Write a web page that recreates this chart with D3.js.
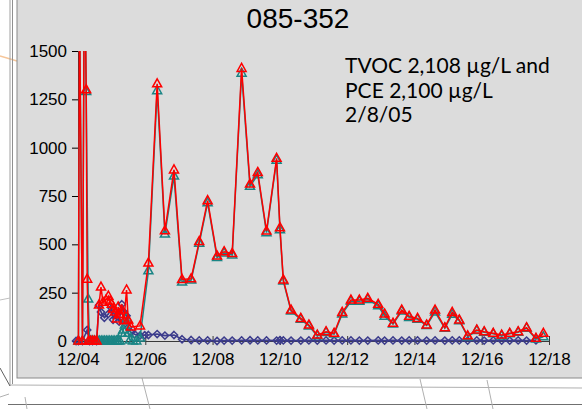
<!DOCTYPE html>
<html><head><meta charset="utf-8">
<script src="https://cdn.jsdelivr.net/npm/d3@7"></script>
<style>html,body{margin:0;padding:0;background:#fff;overflow:hidden}</style>
</head><body>
<svg id="c" width="582" height="409"></svg>
<script>
// ---- data (decimal year, µg/L) ----
const tvocYears = [2004.93,2004.96,2005.05,2005.11,2005.16,2005.19,2005.23,2005.29,2005.35,2005.41,2005.47,2005.54,2005.60,2005.66,2005.75,2005.82,2005.87,2005.92,2005.96,2006.02,2006.07,2006.11,2006.14,2006.22,2006.28,2006.36,2006.41,2006.49,2006.76,
 2007.01,2007.27,2007.50,2007.77,2008.01,2008.28,2008.52,2008.77,2009.05,2009.26,2009.50,2009.78,2010.03,2010.26,2010.52,2010.82,2010.92,2011.02,2011.25,2011.54,2011.78,2012.03,2012.29,2012.53,2012.77,2013.03,2013.28,2013.53,2013.84,2014.03,2014.28,2014.54,2014.76,2015.01,2015.28,2015.53,2015.82,2016.04,2016.25,2016.50,2016.77,2016.99,2017.26,2017.51,2017.75,2018.00,2018.25,2018.53,2018.75];
const tvocValues = [0,1800,0,2108,1300,320,0,0,0,0,0,186,279,200,212,232,206,190,165,150,114,176,139,160,105,264,108,73,78,
 403,1330,570,885,318,322,515,726,440,462,453,1410,812,872,569,945,586,316,160,117,83,31,48,40,148,212,212,221,190,140,92,160,128,117,83,160,69,148,109,27,57,48,40,31,40,48,69,14,40];

const pceYears = [2004.93,2004.96,2005.05,2005.11,2005.16,2005.22,2005.26,2005.31,2005.36,2005.41,2005.46,2005.51,2005.56,2005.61,2005.66,2005.71,2005.76,2005.81,2005.86,2005.91,2005.96,2006.01,2006.06,2006.11,2006.16,2006.22,2006.26,2006.31,2006.36,2006.41,2006.46,2006.55,2006.65,2006.76,
 2007.01,2007.27,2007.50,2007.77,2008.01,2008.28,2008.52,2008.77,2009.05,2009.26,2009.50,2009.78,2010.03,2010.26,2010.52,2010.82,2010.92,2011.02,2011.25,2011.54,2011.78,2012.03,2012.29,2012.53,2012.77,2013.03,2013.28,2013.53,2013.84,2014.03,2014.28,2014.54,2014.76,2015.01,2015.28,2015.53,2015.82,2016.04,2016.25,2016.50,2016.77,2016.99,2017.26,2017.51,2017.75,2018.00,2018.25,2018.53,2018.75];
const pceValues = [0,1800,0,2100,1290,217,0,0,0,0,0,0,0,0,0,0,0,0,0,0,0,0,0,0,0,40,57,83,119,40,5,0,0,15,
 363,1295,553,853,305,315,505,715,432,455,445,1385,800,860,560,935,575,310,155,112,78,27,44,36,140,205,205,215,182,128,88,155,122,112,80,150,66,138,105,22,54,45,37,26,37,45,66,10,22];

const tceYears = [2004.86,2004.93,2005.05,2005.19,2005.26,2005.35,2005.47,2005.54,2005.60,2005.70,2005.82,2005.92,2005.96,2006.05,2006.14,2006.22,2006.28,2006.36,2006.41,2006.49,2006.60,2006.76,2006.90,
 2007.01,2007.27,2007.50,2007.77,2008.01,2008.28,2008.52,2008.77,2009.05,2009.26,2009.50,2009.78,2010.03,2010.26,2010.52,2010.82,2010.92,2011.02,2011.25,2011.54,2011.78,2012.03,2012.29,2012.53,2012.77,2013.03,2013.28,2013.53,2013.84,2014.03,2014.28,2014.54,2014.76,2015.01,2015.28,2015.53,2015.82,2016.04,2016.25,2016.50,2016.77,2016.99,2017.26,2017.51,2017.75,2018.00,2018.25,2018.53,2018.75];
const tceValues = [0,0,0,57,0,0,0,185,150,120,140,170,110,150,100,190,150,130,70,45,35,28,30,
 31,36,28,31,9,5,3,3,0,2,2,3,4,3,3,2,4,3,2,2,3,2,3,2,3,3,2,2,3,2,3,2,3,3,2,3,2,3,3,2,3,2,3,2,2,3,2,3];

const yTicks = [0,250,500,750,1000,1250,1500];
const xTickYears = [2004.917,2006.917,2008.917,2010.917,2012.917,2014.917,2016.917,2018.917];
const xTickLabels = ["12/04","12/06","12/08","12/10","12/12","12/14","12/16","12/18"];
const title = "085-352";
const noteLines = ["TVOC 2,108 µg/L and","PCE 2,100 µg/L","2/8/05"];

// ---- drawing ----
const svg = d3.select("#c");
const x = d3.scaleLinear().domain([2004.917, 2018.917]).range([78, 549]);
const y = d3.scaleLinear().domain([0, 1500]).range([341, 51]);

// background decorations (slide edges)
const deco = svg.append("g").attr("fill","none");
deco.append("line").attr("x1",0).attr("y1",56).attr("x2",17).attr("y2",61).attr("stroke","#f6c69a").attr("stroke-width",1.5);
deco.append("line").attr("x1",10).attr("y1",0).attr("x2",10).attr("y2",386).attr("stroke","#a0a0a0");
deco.append("line").attr("x1",12.5).attr("y1",0).attr("x2",12.5).attr("y2",384).attr("stroke","#909090");
deco.append("line").attr("x1",10).attr("y1",385).attr("x2",582).attr("y2",388).attr("stroke","#b0b0b0");
deco.append("line").attr("x1",8).attr("y1",404.5).attr("x2",582).attr("y2",404.5).attr("stroke","#707070");
deco.append("line").attr("x1",0).attr("y1",368).attr("x2",10).attr("y2",386).attr("stroke","#606060");
deco.append("line").attr("x1",0).attr("y1",397).attr("x2",9).attr("y2",394).attr("stroke","#b0b0b0");
deco.append("line").attr("x1",25).attr("y1",397).attr("x2",27).attr("y2",409).attr("stroke","#b0b0b0");
deco.append("line").attr("x1",142).attr("y1",378).attr("x2",150).attr("y2",409).attr("stroke","#b0b0b0");
deco.append("line").attr("x1",420).attr("y1",379).attr("x2",427).attr("y2",409).attr("stroke","#b0b0b0");
deco.append("line").attr("x1",487).attr("y1",380).attr("x2",493).attr("y2",409).attr("stroke","#b0b0b0");
deco.append("line").attr("x1",0).attr("y1",300).attr("x2",10).attr("y2",298).attr("stroke","#c0c0c0");

// panel
svg.append("rect").attr("x",17).attr("y",-2).attr("width",570).attr("height",380)
  .attr("fill","#dcdcdc").attr("stroke","#8a8a8a").attr("stroke-width",1);

// title & note
svg.append("text").attr("x",298).attr("y",28).attr("text-anchor","middle")
  .attr("font-family","Liberation Sans, Arial, sans-serif").attr("font-size",28).attr("fill","#000").text(title);
svg.append("g").selectAll("text").data(noteLines).join("text")
  .attr("x",345).attr("y",(d,i)=>73+i*24.5)
  .attr("font-family","Lato, 'Open Sans', sans-serif").attr("font-size",21).attr("fill","#000").text(d=>d);

// axes
const yAxis = svg.append("g").attr("transform","translate(78,0)")
  .call(d3.axisLeft(y).tickValues(yTicks).tickFormat(d3.format("d")).tickSize(6).tickSizeOuter(0).tickPadding(5));
yAxis.selectAll("text").attr("font-family","Liberation Sans, Arial, sans-serif").attr("font-size",17).attr("fill","#000");
yAxis.selectAll("line,path").attr("stroke","#000");

const xAxis = svg.append("g").attr("transform","translate(0,341)")
  .call(d3.axisBottom(x).tickValues(xTickYears).tickFormat((d,i)=>xTickLabels[i]).tickSize(4).tickSizeOuter(0).tickPadding(8));
xAxis.selectAll(".tick line").attr("y1",-5).attr("y2",4);
xAxis.selectAll("text").attr("font-family","Liberation Sans, Arial, sans-serif").attr("font-size",17).attr("fill","#000");
xAxis.selectAll("line,path").attr("stroke","#3a3a3a");

// clip
svg.append("defs").append("clipPath").attr("id","pc").append("rect")
  .attr("x",60).attr("y",51).attr("width",510).attr("height",310);
const plot = svg.append("g").attr("clip-path","url(#pc)");

const line = d3.line().x(d=>x(d[0])).y(d=>y(d[1]));
const zip = (a,b)=>a.map((t,i)=>[t,b[i]]);
const tce = zip(tceYears,tceValues), pce = zip(pceYears,pceValues), tvoc = zip(tvocYears,tvocValues);

const tri = "M0,-5L4.5,3L-4.5,3Z";
const dia = "M0,-3.6L3.6,0L0,3.6L-3.6,0Z";

function series(data, color, shape, w){
  plot.append("path").datum(data).attr("d",line).attr("fill","none").attr("stroke",color).attr("stroke-width",w);
  plot.append("g").selectAll("path").data(data).join("path")
    .attr("transform",d=>`translate(${x(d[0])},${y(d[1])})`)
    .attr("d",shape).attr("fill","none").attr("stroke",color).attr("stroke-width",1.5);
}
series(tce, "#3c3c8c", dia, 1.6);
series(pce, "#1a8585", tri, 1.5);
series(tvoc, "#ff0000", tri, 1.5);
</script>
</body></html>
